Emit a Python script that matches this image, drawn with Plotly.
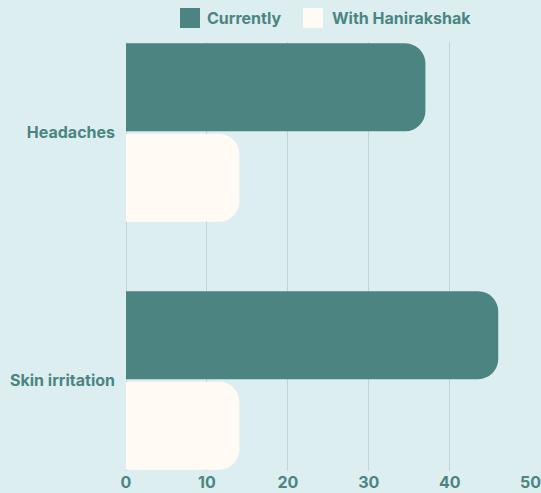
import plotly.graph_objects as go

categories = ["Headaches", "Skin irritation"]
currently = [37, 46]
with_hanirakshak = [14, 14]
x_ticks = [0, 10, 20, 30, 40, 50]
series_names = ["Currently", "With Hanirakshak"]

BG = "#ddeef1"
TEAL = "#4b8480"
CREAM = "#fffbf4"
TEXT = "#4a8582"
GRID = "#bcd6d6"
FONT = "Inter, Roboto, sans-serif"

W, H = 541, 493
ML, MR, MT, MB = 126, 10, 42, 22
PW, PH = W - ML - MR, H - MT - MB

fig = go.Figure()
fig.add_trace(go.Bar(y=categories, x=currently, name=series_names[0], orientation="h",
                     marker=dict(color=TEAL, cornerradius=20, line=dict(width=0)),
                     showlegend=False, hoverinfo="skip"))
fig.add_trace(go.Bar(y=categories, x=with_hanirakshak, name=series_names[1], orientation="h",
                     marker=dict(color=CREAM, cornerradius=20, line=dict(width=0)),
                     showlegend=False, hoverinfo="skip"))

def px_x(p):
    return (p - ML) / PW

def px_y(p):
    return (H - MB - p) / PH

shapes = []
annotations = []
for (x0, tx), name, col in zip([(180, 205), (303, 330)], series_names, [TEAL, CREAM]):
    shapes.append(dict(type="rect", xref="paper", yref="paper",
                       x0=px_x(x0), x1=px_x(x0 + 20), y0=px_y(28), y1=px_y(8),
                       fillcolor=col, line=dict(width=0)))
    annotations.append(dict(xref="paper", yref="paper", x=px_x(tx), y=px_y(18),
                            xanchor="left", yanchor="middle", showarrow=False,
                            text="<b>%s</b>" % name,
                            font=dict(family=FONT, size=16, color=TEXT)))

fig.update_layout(
    width=W, height=H,
    margin=dict(l=ML, r=MR, t=MT, b=MB),
    paper_bgcolor=BG, plot_bgcolor=BG,
    barmode="group", bargap=0.27, bargroupgap=0.03,
    shapes=shapes, annotations=annotations,
    font=dict(family=FONT, size=16, color=TEXT),
    hovermode=False,
)
fig.update_xaxes(range=[0, 50.05], tickvals=x_ticks, ticktext=["<b>%d</b>" % v for v in x_ticks],
                 showgrid=True, gridcolor=GRID, gridwidth=1, zeroline=True,
                 zerolinecolor=GRID, zerolinewidth=1, showline=False, ticks="",
                 ticklabeloverflow="allow", automargin=False,
                 tickfont=dict(family=FONT, size=16, color=TEXT))
fig.update_yaxes(type="category", range=[1.365, -0.365],
                 tickvals=categories, ticktext=["<b>%s</b>" % c for c in categories],
                 showgrid=False, zeroline=False, showline=False, ticks="",
                 ticklabelstandoff=10, automargin=False,
                 tickfont=dict(family=FONT, size=16, color=TEXT))

fig.write_html(
    "out.html",
    config={"displayModeBar": False, "staticPlot": True},
    post_script=(
        "document.documentElement.style.margin='0';"
        "document.documentElement.style.overflow='hidden';"
        "document.body.style.margin='0';document.body.style.overflow='hidden';"
        "var d=document.getElementById('{plot_id}');d.style.overflow='hidden';"
    ),
)
